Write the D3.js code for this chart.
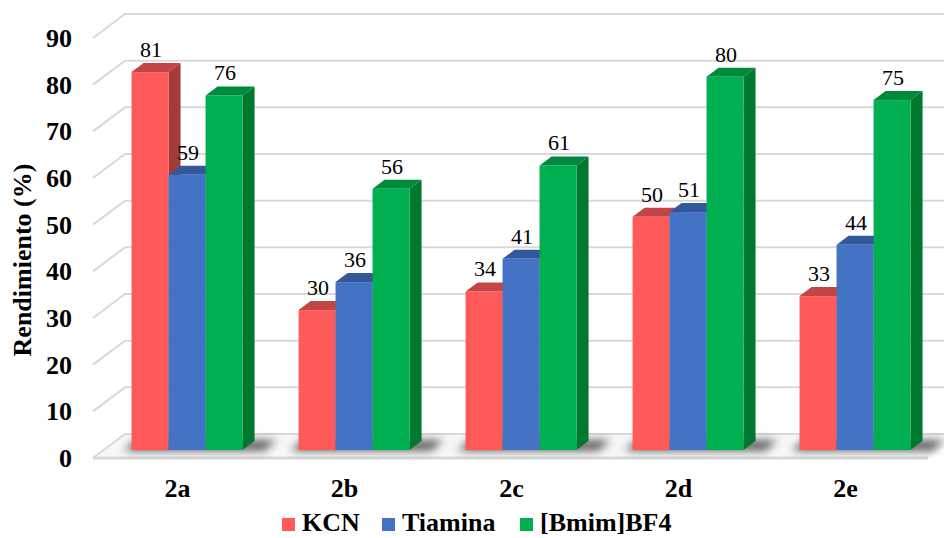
<!DOCTYPE html>
<html>
<head>
<meta charset="utf-8">
<script src="https://cdn.jsdelivr.net/npm/d3@7"></script>
<style>
  html, body { margin: 0; padding: 0; background: #fff; }
  svg { display: block; }
  svg text { font-family: "Times New Roman", "Liberation Serif", serif; }
</style>
</head>
<body>
<svg id="chart" width="944" height="538"></svg>
<script>
// Yield data per substrate and catalyst
const categories = ["2a", "2b", "2c", "2d", "2e"];
const seriesNames = ["KCN", "Tiamina", "[Bmim]BF4"];
const kcn = [81, 30, 34, 50, 33];
const tiamina = [59, 36, 41, 51, 44];
const bmim = [76, 56, 61, 80, 75];
const yTicks = [0, 10, 20, 30, 40, 50, 60, 70, 80, 90];

const seriesValues = [kcn, tiamina, bmim];
const fronts = ["#FF5A5A", "#4472C4", "#00B050"];
const tops   = ["#C44545", "#34589C", "#008A3E"];
const sides  = ["#A53A3A", "#2E5090", "#00782F"];

const svg = d3.select("#chart");
const W = 944;

// pseudo-3D geometry: front floor edge, and depth vector of the floor
const floorY = 458;
const depth = { x: 32, y: -24 };
const barT = 0.33;                 // depth fraction where bar fronts sit
const barDepth = { x: 12, y: -9 }; // depth of each column

const x = d3.scaleBand().domain(categories).range([93, 928]);
const inner = d3.scaleBand().domain(seriesNames).range([0, 111]);
const h = d3.scaleLinear().domain([0, 90]).range([0, 420]);

const defs = svg.append("defs");
defs.append("filter").attr("id", "soft").attr("x", "-50%").attr("y", "-200%")
  .attr("width", "200%").attr("height", "500%")
  .append("feGaussianBlur").attr("stdDeviation", 4);

// floor
const x0 = x.range()[0], x1 = x.range()[1];
svg.append("path")
  .attr("d", `M${x0},${floorY} L${x1},${floorY} L${x1 + depth.x},${floorY + depth.y} L${x0 + depth.x},${floorY + depth.y} Z`)
  .attr("fill", "#f7f7f7");

// gridlines: side wall diagonal + back wall horizontal
const grid = svg.append("g");
yTicks.forEach(v => {
  const yf = floorY - h(v), yb = yf + depth.y;
  grid.append("path")
    .attr("d", `M${x0},${yf} L${x0 + depth.x},${yb} L${W + 20},${yb}`)
    .attr("fill", "none").attr("stroke", "#d9d9d9").attr("stroke-width", 2);
});
// front floor edge
svg.append("line").attr("x1", x0).attr("x2", x1).attr("y1", floorY).attr("y2", floorY)
  .attr("stroke", "#d9d9d9").attr("stroke-width", 3);

// shadows under each group
const shift = { x: depth.x * barT, y: depth.y * barT };
const baseY = floorY + shift.y;
const groupOff = (x.bandwidth() - inner.range()[1]) / 2;
const shadows = svg.append("g").attr("filter", "url(#soft)");
categories.forEach(c => {
  const gx = x(c) + groupOff + shift.x;
  const gw = inner.range()[1];
  shadows.append("path")
    .attr("d", `M${gx - 8},${baseY + 1} L${gx + gw + 22},${baseY + 1} L${gx + gw + 34},${baseY - 10} L${gx + 4},${baseY - 10} Z`)
    .attr("fill", "#000").attr("opacity", 0.6);
});

// columns
const bars = svg.append("g");
const labels = svg.append("g")
  .attr("font-size", 22).attr("fill", "#000").attr("text-anchor", "middle");

categories.forEach((c, ci) => {
  seriesNames.forEach((s, si) => {
    const v = seriesValues[si][ci];
    const bx = x(c) + groupOff + shift.x + inner(s);
    const bw = inner.bandwidth();
    const ty = baseY - h(v);
    const g = bars.append("g");
    // side
    g.append("path")
      .attr("d", `M${bx + bw},${ty} L${bx + bw + barDepth.x},${ty + barDepth.y} L${bx + bw + barDepth.x},${baseY + barDepth.y} L${bx + bw},${baseY} Z`)
      .attr("fill", sides[si]);
    // top
    g.append("path")
      .attr("d", `M${bx},${ty} L${bx + bw},${ty} L${bx + bw + barDepth.x},${ty + barDepth.y} L${bx + barDepth.x},${ty + barDepth.y} Z`)
      .attr("fill", tops[si]);
    // front
    g.append("rect").attr("x", bx).attr("y", ty).attr("width", bw).attr("height", h(v))
      .attr("fill", fronts[si]);
    labels.append("text")
      .attr("x", bx + bw / 2 + 1).attr("y", ty + barDepth.y - 6)
      .text(v);
  });
});

// value axis labels
svg.append("g").selectAll("text").data(yTicks).join("text")
  .attr("x", 72).attr("y", v => floorY - h(v))
  .attr("dy", "0.35em").attr("text-anchor", "end")
  .attr("font-weight", "bold").attr("font-size", 26)
  .text(d => d);

// category labels
svg.append("g").selectAll("text").data(categories).join("text")
  .attr("x", d => x(d) + x.bandwidth() / 2 + 1).attr("y", 497)
  .attr("text-anchor", "middle")
  .attr("font-weight", "bold").attr("font-size", 26)
  .text(d => d);

// axis title
svg.append("text")
  .attr("transform", "translate(31,260) rotate(-90)")
  .attr("text-anchor", "middle")
  .attr("font-weight", "bold").attr("font-size", 26)
  .text("Rendimiento (%)");

// legend
const legendX = [282, 382, 520];
const legend = svg.append("g");
seriesNames.forEach((s, i) => {
  legend.append("rect").attr("x", legendX[i]).attr("y", 518).attr("width", 13).attr("height", 13)
    .attr("fill", fronts[i]);
  legend.append("text").attr("x", legendX[i] + 20).attr("y", 531)
    .attr("font-weight", "bold").attr("font-size", 26)
    .text(s);
});
</script>
</body>
</html>
